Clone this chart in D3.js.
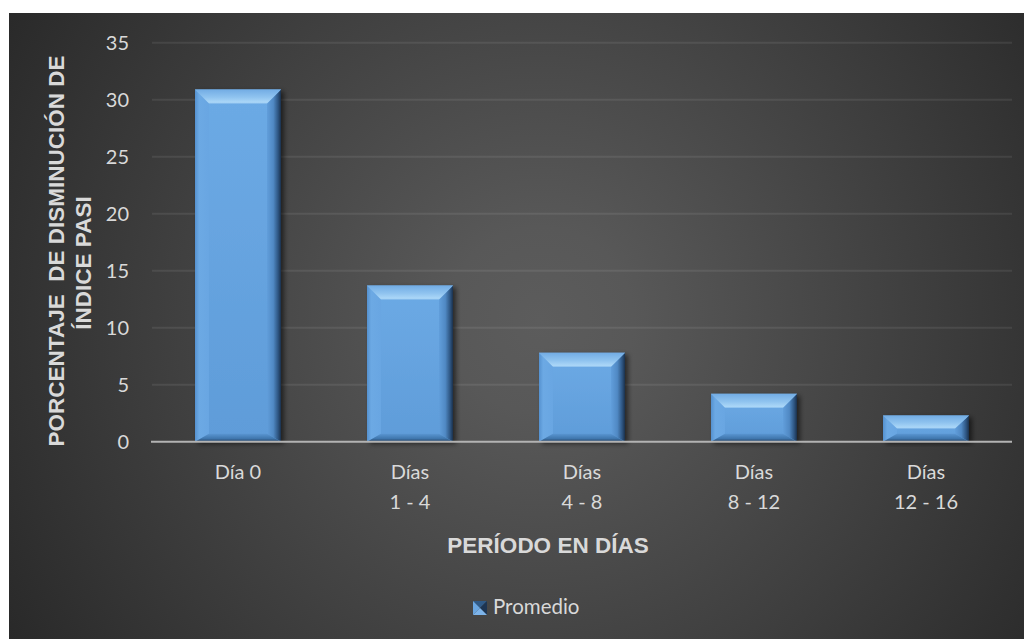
<!DOCTYPE html>
<html>
<head>
<meta charset="utf-8">
<script src="https://cdn.jsdelivr.net/npm/d3@7"></script>
<style>
  html, body { margin: 0; padding: 0; background: #ffffff; }
  svg { display: block; }
  text { white-space: pre; }
  .lbl { font-family: Lato, "Noto Sans", sans-serif; }
</style>
</head>
<body>
<svg id="chart" width="1024" height="639"></svg>
<script>
// ---- data ----
const categories = ["Día 0", "Días\n1 - 4", "Días\n4 - 8", "Días\n8 - 12", "Días\n12 - 16"];
const values = [30.9, 13.7, 7.8, 4.2, 2.3];
const yTicks = [0, 5, 10, 15, 20, 25, 30, 35];
const yTitleLines = ["PORCENTAJE  DE DISMINUCIÓN DE", "ÍNDICE PASI"];
const xTitle = "PERÍODO EN DÍAS";
const seriesName = "Promedio";

const svg = d3.select("#chart");
const defs = svg.append("defs");

// background gradient
const bg = defs.append("radialGradient").attr("id", "bgGrad")
  .attr("gradientUnits", "userSpaceOnUse")
  .attr("cx", 540).attr("cy", 320).attr("r", 620);
bg.append("stop").attr("offset", 0).attr("stop-color", "#5c5c5c");
bg.append("stop").attr("offset", 0.15).attr("stop-color", "#585858");
bg.append("stop").attr("offset", 1).attr("stop-color", "#292929");

function lin(id, x1, y1, x2, y2, stops) {
  const g = defs.append("linearGradient").attr("id", id)
    .attr("x1", x1).attr("y1", y1).attr("x2", x2).attr("y2", y2);
  stops.forEach(s => g.append("stop").attr("offset", s[0]).attr("stop-color", s[1]));
}
lin("faceGrad", 0, 0, 0, 1, [[0, "#6caae5"], [1, "#5f9cd9"]]);
lin("topGrad", 0, 0, 0, 1, [[0, "#72ace4"], [0.55, "#8fc3ef"], [0.9, "#aad6f7"], [1, "#9ccbf2"]]);
lin("leftGrad", 0, 0, 1, 0, [[0, "#5591cf"], [0.3, "#6ca9e4"], [1, "#69a6e2"]]);
lin("rightGrad", 0, 0, 1, 0, [[0, "#619edb"], [0.45, "#5089c4"], [0.8, "#2d5480"], [1, "#1b314c"]]);
lin("bottomGrad", 0, 0, 0, 1, [[0, "#5a96d2"], [0.6, "#4077ae"], [0.85, "#2f5680"], [1, "#6a9fd6"]]);

const shadow = defs.append("filter").attr("id", "shadow")
  .attr("x", "-20%").attr("y", "-10%").attr("width", "150%").attr("height", "130%");
shadow.append("feDropShadow").attr("dx", 3).attr("dy", 2).attr("stdDeviation", 2.5)
  .attr("flood-color", "#000").attr("flood-opacity", 0.55);

// chart area background
svg.append("rect").attr("x", 9).attr("y", 13).attr("width", 1015).attr("height", 626)
  .attr("fill", "url(#bgGrad)");

// scales
const plot = { left: 152, right: 1012, top: 42.7, bottom: 441.7 };
const x = d3.scaleBand().domain(categories).range([plot.left, plot.right]).paddingInner(0.5).paddingOuter(0.25);
const y = d3.scaleLinear().domain([0, 35]).range([plot.bottom, plot.top]);

// gridlines
svg.append("g").selectAll("line").data(yTicks.filter(t => t > 0)).join("line")
  .attr("x1", plot.left).attr("x2", plot.right)
  .attr("y1", d => y(d)).attr("y2", d => y(d))
  .attr("stroke", "#ffffff").attr("stroke-opacity", 0.08).attr("stroke-width", 2);

// y tick labels via axis
const yAxis = svg.append("g").attr("transform", `translate(${plot.left},0)`)
  .call(d3.axisLeft(y).tickValues(yTicks).tickSize(0).tickPadding(23));
yAxis.select(".domain").remove();
yAxis.attr("font-family", null).attr("font-size", null);
yAxis.selectAll("text").attr("class", "lbl")
  .attr("fill", "#d9d9d9").attr("font-size", 20);

// bars
const bars = svg.append("g");
values.forEach((v, i) => {
  const x0 = x(categories[i]), x1 = x0 + x.bandwidth();
  const yT = y(v), yB = y(0);
  const h = yB - yT;
  const bt = Math.min(14, h * 0.5);
  const bb = Math.min(8, h - bt);
  const bs = Math.min(14, x.bandwidth() / 2);
  const g = bars.append("g");
  const pts = a => a.map(p => p.join(",")).join(" ");
  g.append("rect").attr("x", x0).attr("y", yT).attr("width", x1 - x0).attr("height", h)
    .attr("fill", "url(#faceGrad)").attr("filter", "url(#shadow)");
  g.append("polygon").attr("points", pts([[x0, yT], [x0 + bs, yT + bt], [x0 + bs, yB - bb], [x0, yB]]))
    .attr("fill", "url(#leftGrad)");
  g.append("polygon").attr("points", pts([[x1, yT], [x1 - bs, yT + bt], [x1 - bs, yB - bb], [x1, yB]]))
    .attr("fill", "url(#rightGrad)");
  g.append("polygon").attr("points", pts([[x0, yB], [x0 + bs, yB - bb], [x1 - bs, yB - bb], [x1, yB]]))
    .attr("fill", "url(#bottomGrad)");
  g.append("polygon").attr("points", pts([[x0, yT], [x1, yT], [x1 - bs, yT + bt], [x0 + bs, yT + bt]]))
    .attr("fill", "url(#topGrad)");
});

// zero axis line
svg.append("line").attr("x1", plot.left - 1).attr("x2", plot.right)
  .attr("y1", y(0)).attr("y2", y(0))
  .attr("stroke", "#b3b3b3").attr("stroke-width", 2);

// x labels
const xl = svg.append("g");
categories.forEach(c => {
  const cx = x(c) + x.bandwidth() / 2;
  const t = xl.append("text").attr("class", "lbl").attr("text-anchor", "middle")
    .attr("fill", "#d9d9d9").attr("font-size", 20);
  c.split("\n").forEach((line, k) => {
    t.append("tspan").attr("x", cx).attr("y", 479 + k * 30).text(line);
  });
});

// axis titles
const titleFont = "'Liberation Sans', Arial, sans-serif";
svg.append("text").attr("transform", "translate(64,251) rotate(-90)")
  .attr("text-anchor", "middle").attr("fill", "#d9d9d9").attr("font-family", titleFont)
  .attr("font-weight", "bold").attr("font-size", 22.5).text(yTitleLines[0]);
svg.append("text").attr("transform", "translate(91,263) rotate(-90)")
  .attr("text-anchor", "middle").attr("fill", "#d9d9d9").attr("font-family", titleFont)
  .attr("font-weight", "bold").attr("font-size", 22.5).text(yTitleLines[1]);
svg.append("text").attr("x", 548).attr("y", 553)
  .attr("text-anchor", "middle").attr("fill", "#d9d9d9").attr("font-family", titleFont)
  .attr("font-weight", "bold").attr("font-size", 22.5).text(xTitle);

// legend
const lg = svg.append("g").attr("transform", "translate(473,601)");
const s = 14, c = s / 2;
lg.append("polygon").attr("points", `0,0 ${s},0 ${c},${c}`).attr("fill", "#2f5a88");
lg.append("polygon").attr("points", `0,0 ${c},${c} 0,${s}`).attr("fill", "#6aa6e1");
lg.append("polygon").attr("points", `${s},0 ${s},${s} ${c},${c}`).attr("fill", "#1d3553");
lg.append("polygon").attr("points", `0,${s} ${c},${c} ${s},${s}`).attr("fill", "#7db4ea");
svg.append("text").attr("class", "lbl").attr("x", 493).attr("y", 614)
  .attr("fill", "#d9d9d9").attr("font-size", 20.5)
  .text(seriesName);
</script>
</body>
</html>
